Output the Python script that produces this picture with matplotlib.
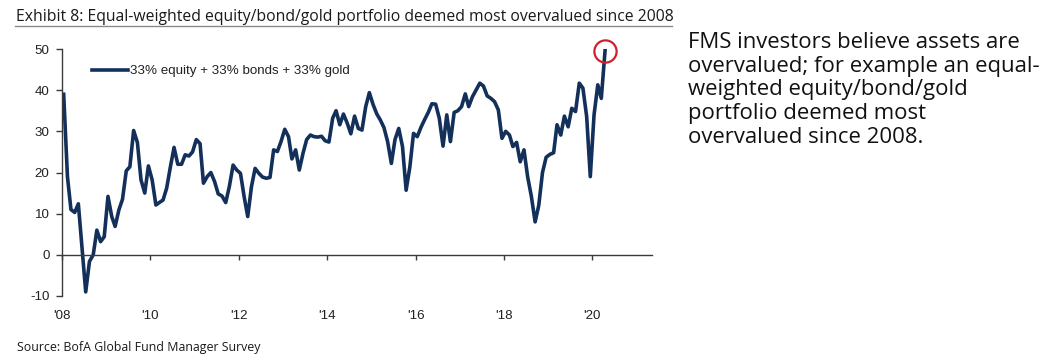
import matplotlib
matplotlib.use('Agg')
import matplotlib.pyplot as plt
from matplotlib.lines import Line2D
import pandas as pd

plt.rcParams['axes.unicode_minus'] = False

# monthly FMS readings, Jan 2008 .. Apr 2020 (% net saying overvalued)
vals_2008 = [39, 19, 11, 10.3, 12.4, 1.5, -9, -1.6, 0, 6, 3.2, 4.4]
vals_2009 = [14.2, 9.3, 6.9, 10.9, 13.5, 20.4, 21.4, 30.2, 27.3, 18.2, 15, 21.6]
vals_2010 = [18.2, 12.1, 12.7, 13.3, 16.2, 21.4, 26.1, 22, 22, 24.3, 24, 25]
vals_2011 = [28, 27, 17.4, 19, 20, 17.8, 14.8, 14.3, 12.7, 16.6, 21.8, 20.6]
vals_2012 = [19.8, 14, 9.3, 16.6, 21, 19.8, 18.9, 18.6, 18.8, 25.5, 25.1, 27.5]
vals_2013 = [30.5, 28.7, 23.3, 25.5, 20.6, 24.7, 28, 29.1, 28.7, 28.6, 28.8, 27.7]
vals_2014 = [27.4, 33.2, 35, 31.6, 34.2, 32, 29.4, 33.7, 30.7, 30.3, 36, 39.4]
vals_2015 = [36.5, 34.2, 32.8, 30.9, 27.5, 22.2, 28, 30.7, 26.3, 15.7, 21.4, 29.5]
vals_2016 = [28.7, 31, 32.8, 34.6, 36.7, 36.6, 33.2, 26.4, 34, 27.5, 34.6, 35]
vals_2017 = [36, 39.1, 36, 38.4, 40, 41.7, 41, 38.6, 38, 37.2, 35.2, 28.3]
vals_2018 = [30, 29.1, 26.3, 27.3, 22.6, 25.5, 19, 14.2, 8, 12, 20, 23.7]
vals_2019 = [24.4, 24.8, 31.6, 29.1, 33.7, 31.1, 35.6, 34.8, 41.7, 40.5, 33.6, 19]
vals_2020 = [34, 41.3, 38, 49.6]

values = (vals_2008 + vals_2009 + vals_2010 + vals_2011 + vals_2012 + vals_2013
          + vals_2014 + vals_2015 + vals_2016 + vals_2017 + vals_2018 + vals_2019
          + vals_2020)
dates = pd.date_range('2008-01-01', periods=len(values), freq='MS') + pd.Timedelta(days=14)

tick_years = [2008, 2010, 2012, 2014, 2016, 2018, 2020]
tick_labels = ["'08", "'10", "'12", "'14", "'16", "'18", "'20"]
y_ticks = [-10, 0, 10, 20, 30, 40, 50]

NAVY = '#13305a'
RED = '#d0202e'
AXC = '#3a3a3a'

fig = plt.figure(figsize=(10.5, 3.56), dpi=100)
fig.patch.set_facecolor('white')
ax = fig.add_axes([62/1050, 60/356, 590/1050, 247/356])

ax.plot(dates, values, color=NAVY, lw=2.6, solid_joinstyle='round',
        label='33% equity + 33% bonds + 33% gold')
# red ring on the latest reading
ax.plot(dates[-1:], values[-1:], 'o', ms=16, mfc='none', mec=RED, mew=1.6,
        clip_on=False)

ax.set_ylim(-10, 50)
ax.set_xlim(pd.Timestamp('2008-01-01'), pd.Timestamp('2021-05-08'))
ax.set_yticks(y_ticks)
ax.set_xticks([pd.Timestamp(f'{y}-01-01') for y in tick_years])
ax.set_xticklabels(tick_labels)

for s in ['top', 'right']:
    ax.spines[s].set_visible(False)
ax.spines['bottom'].set_position(('data', 0))
for s in ['left', 'bottom']:
    ax.spines[s].set_color(AXC)
    ax.spines[s].set_linewidth(1.0)

ax.tick_params(axis='y', direction='out', length=4, width=1, color=AXC,
               labelsize=9.6, labelcolor='#222222', pad=5)
ax.tick_params(axis='x', direction='out', length=3.5, width=1, color=AXC,
               labelsize=9.6, labelcolor='#222222', pad=36)
for lab in ax.get_xticklabels() + ax.get_yticklabels():
    lab.set_family('Liberation Sans')

leg = ax.legend(loc='center left', bbox_to_anchor=(92/1050, 1 - 71/356),
                bbox_transform=fig.transFigure, frameon=False, borderpad=0,
                borderaxespad=0, handlelength=2.7, handletextpad=0.15,
                prop={'family': 'Liberation Sans', 'size': 9.6})
for t in leg.get_texts():
    t.set_color('#222222')

# ── title + rule ──
fig.text(16/1050, 1 - 17/356,
         'Exhibit 8: Equal-weighted equity/bond/gold portfolio deemed most overvalued since 2008',
         ha='left', va='center', fontsize=11.3, family='Open Sans', color='#1a1a1a')
fig.add_artist(Line2D([15/1050, 672/1050], [1 - 26/356] * 2, color='#8a8a8a', lw=1))

# ── side commentary ──
fig.text(688/1050, 1 - 32/356,
         'FMS investors believe assets are\novervalued; for example an equal-\nweighted equity/bond/gold\nportfolio deemed most\novervalued since 2008.',
         ha='left', va='top', fontsize=15.9, family='Open Sans', color='#111111',
         linespacing=1.17)

fig.text(17/1050, 1 - 348/356, 'Source: BofA Global Fund Manager Survey',
         ha='left', va='center', fontsize=8.9, family='Open Sans', color='#1a1a1a')

plt.savefig('out.png', dpi=100, facecolor=fig.get_facecolor())
plt.close()
